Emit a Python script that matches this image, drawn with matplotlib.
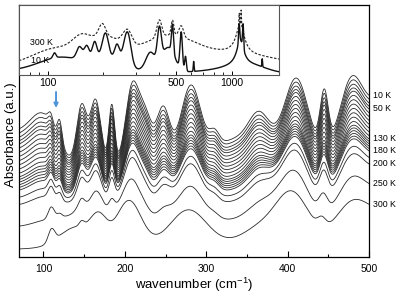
import numpy as np
import matplotlib
matplotlib.use("Agg")
import matplotlib.pyplot as plt
import matplotlib.transforms as mtransforms
from matplotlib.ticker import MultipleLocator, LogLocator, NullFormatter

plt.rcParams["font.family"] = ["Liberation Sans", "DejaVu Sans"]
plt.rcParams["mathtext.fontset"] = "custom"
plt.rcParams["mathtext.rm"] = "Liberation Sans"
plt.rcParams["mathtext.it"] = "Liberation Sans:italic"

# temperatures of the stacked spectra and where each one sits between 300 K (0) and 10 K (1)
temps = [10, 20, 30, 40, 50, 60, 70, 80, 90, 100, 110, 120, 130, 140, 150,
         160, 170, 180, 190, 200, 250, 300]
mix = [1.0, 0.965, 0.93, 0.90, 0.874, 0.84, 0.805, 0.77, 0.735, 0.70, 0.665,
       0.63, 0.60, 0.578, 0.556, 0.534, 0.512, 0.49, 0.43, 0.37, 0.19, 0.0]
labelled = [10, 50, 130, 180, 200, 250, 300]

# 10 K spectrum (main panel): baseline + bands (centre, width, height)
cold_base = 95.0
cold_slope = 0.04
cold_c = [60, 101, 109, 120, 147, 164, 184, 209, 225, 247, 281, 310, 350, 365, 411, 445, 478, 520]
cold_s = [30, 16, 3, 3, 6, 6.5, 3.5, 8, 8, 8, 12, 6, 40, 12, 14, 5, 14, 22]
cold_h = [35, 39, 10, 22, 58, 64, 58, 74, 45, 52, 70, 14, 20, 26, 70, 55, 66, 55]

# 300 K spectrum (main panel)
warm_base = 14.0
warm_slope = 0.025
warm_c = [110, 140, 147, 168, 205, 278, 365, 405, 442, 480, 520]
warm_s = [4, 20, 3, 10, 15, 22, 20, 20, 5, 20, 20]
warm_h = [13, 20, 5, 25, 45, 34, 13, 48, 9, 36, 20]

# inset, 10 K (solid)
in10_base = 2.0
in10_c = [110, 109, 200, 149, 163, 180, 206, 238, 271, 360, 404, 450, 476, 531, 560, 620, 1200, 1095, 1150, 1460]
in10_s = [25, 2, 60, 5, 5, 5, 8, 7, 12, 20, 10, 40, 6, 8, 6, 3, 300, 8, 8, 6]
in10_h = [10, 5, 16, 12, 13, 16, 24, 15, 33, 18, 32, 25, 28, 37, 15, 10, 8, 18, 24, 8]
in10_lor = (1110, 60, 25)

# inset, 300 K (dashed): broad bands in log scale (centre, decades, height) + bands
in300_base = 10.0
in300_logc = [110, 200, 450, 1100]
in300_logs = [0.12, 0.10, 0.15, 0.20]
in300_logh = [16, 26, 28, 10]
in300_c = [150, 198, 271, 404, 476, 531, 1095, 1122]
in300_s = [15, 8, 15, 12, 8, 15, 4, 4]
in300_h = [10, 12, 15, 17, 15, 11, 12, 15]
in300_lor = (1110, 70, 30)


def bands(x, c, s, h):
    y = np.zeros_like(x)
    for ci, si, hi in zip(c, s, h):
        y += hi * np.exp(-(x - ci) ** 2 / (2 * si ** 2))
    return y


def lorentz(x, p):
    c, g, h = p
    return h / (1 + ((x - c) / g) ** 2)


wn = np.linspace(70, 500, 1721)
y_cold = cold_base + cold_slope * (wn - 70) + bands(wn, cold_c, cold_s, cold_h)
y_warm = warm_base + warm_slope * (wn - 70) + bands(wn, warm_c, warm_s, warm_h)

fig = plt.figure(figsize=(3.99, 2.92), dpi=100)
ax = fig.add_axes([0.0476, 0.1199, 0.8772, 0.863])

for T, m in zip(temps, mix):
    y = y_warm + m * (y_cold - y_warm)
    ax.plot(wn, y, color="#2a2a2a", lw=0.6)
    if T in labelled:
        tr = mtransforms.blended_transform_factory(ax.transAxes, ax.transData)
        ax.text(1.012, y[-1], f"{T} K", transform=tr, fontsize=6.3,
                va="center", ha="left")

ax.annotate("", xy=(115.5, 155), xytext=(115.5, 171),
            arrowprops=dict(arrowstyle="-|>", color="#4f93d8", lw=1.4,
                            mutation_scale=6, shrinkA=0, shrinkB=0))

ax.set_xlim(70, 500)
ax.set_ylim(6, 258)
ax.set_yticks([])
ax.xaxis.set_major_locator(MultipleLocator(100))
ax.xaxis.set_minor_locator(MultipleLocator(50))
ax.tick_params(axis="x", which="major", direction="in", length=4, width=0.8,
               labelsize=7.5, pad=5)
ax.tick_params(axis="x", which="minor", direction="in", length=2.5, width=0.8)
for sp in ax.spines.values():
    sp.set_linewidth(0.9)
ax.set_xlabel("wavenumber (cm$^{-1}$)", fontsize=9.5, labelpad=1)
ax.set_ylabel("Absorbance (a.u.)", fontsize=9.5)
ax.yaxis.set_label_coords(-0.006, 0.484)

# inset: full range at 10 K and 300 K
ins = fig.add_axes([0.0476, 0.7432, 0.6516, 0.2397])
wl = np.logspace(np.log10(70), np.log10(1800), 4000)
y10 = in10_base + bands(wl, in10_c, in10_s, in10_h) + lorentz(wl, in10_lor)
y300 = (in300_base + bands(np.log10(wl), np.log10(in300_logc), in300_logs, in300_logh)
        + bands(wl, in300_c, in300_s, in300_h) + lorentz(wl, in300_lor))
ins.plot(wl, y300, color="#222222", lw=0.8, ls=(0, (2.2, 1.4)))
ins.plot(wl, y10, color="#111111", lw=1.0)
ins.set_xscale("log")
ins.set_xlim(70, 1800)
ins.set_ylim(0, 70)
ins.set_yticks([])
ins.set_xticks([100, 500, 1000])
ins.set_xticklabels(["100", "500", "1000"])
ins.xaxis.set_minor_locator(LogLocator(base=10, subs=np.arange(2, 10)))
ins.xaxis.set_minor_formatter(NullFormatter())
ins.tick_params(axis="x", which="major", direction="in", length=3, width=0.7,
                labelsize=7.5, pad=2)
ins.tick_params(axis="x", which="minor", direction="in", length=2, width=0.6)
for sp in ins.spines.values():
    sp.set_linewidth(0.8)
    sp.set_color("#555555")
ins.text(0.042, 0.457, "300 K", transform=ins.transAxes, fontsize=6.3, va="center")
ins.text(0.048, 0.214, "10 K", transform=ins.transAxes, fontsize=6.3, va="center")

fig.savefig("out.png", dpi=100)
